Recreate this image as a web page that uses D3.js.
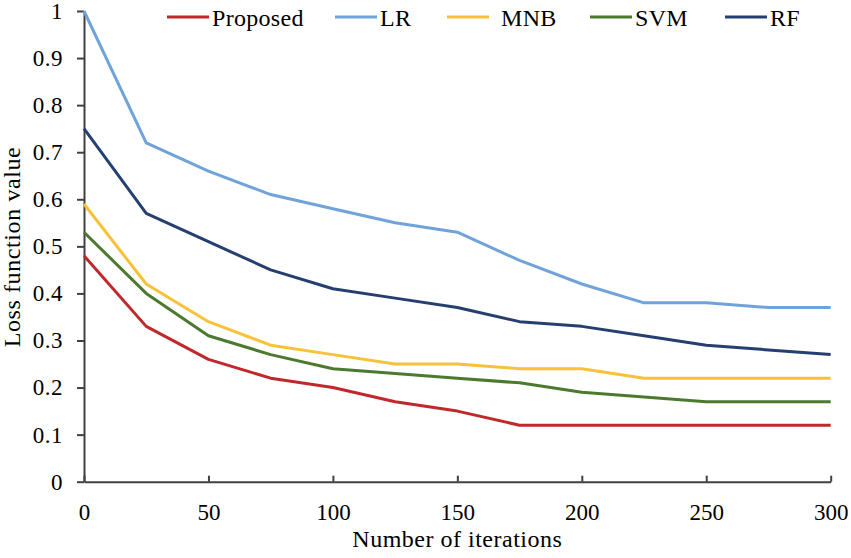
<!DOCTYPE html>
<html>
<head>
<meta charset="utf-8">
<script src="https://cdn.jsdelivr.net/npm/d3@7"></script>
<style>
  body { margin: 0; background: #fff; }
  text { font-family: "Liberation Serif", "Times New Roman", serif; fill: #000; }
</style>
</head>
<body>
<div id="svgdiv"></div>
<script>
// chart data
var iterations = [0, 25, 50, 75, 100, 125, 150, 175, 200, 225, 250, 275, 300];
var seriesNames = ["Proposed", "LR", "MNB", "SVM", "RF"];
var proposed = [0.48, 0.33, 0.26, 0.22, 0.20, 0.17, 0.15, 0.12, 0.12, 0.12, 0.12, 0.12, 0.12];
var lr       = [1.00, 0.72, 0.66, 0.61, 0.58, 0.55, 0.53, 0.47, 0.42, 0.38, 0.38, 0.37, 0.37];
var mnb      = [0.59, 0.42, 0.34, 0.29, 0.27, 0.25, 0.25, 0.24, 0.24, 0.22, 0.22, 0.22, 0.22];
var svm      = [0.53, 0.40, 0.31, 0.27, 0.24, 0.23, 0.22, 0.21, 0.19, 0.18, 0.17, 0.17, 0.17];
var rf       = [0.75, 0.57, 0.51, 0.45, 0.41, 0.39, 0.37, 0.34, 0.33, 0.31, 0.29, 0.28, 0.27];
var xTicks = [0, 50, 100, 150, 200, 250, 300];
var yTicks = [0, 0.1, 0.2, 0.3, 0.4, 0.5, 0.6, 0.7, 0.8, 0.9, 1];

var colors = ["#c0282c", "#6fa3d9", "#f7c23a", "#4b7a2f", "#243f70"];
var allSeries = [proposed, lr, mnb, svm, rf];

var width = 851, height = 558;
var margin = {left: 84, right: 20, top: 11, bottom: 76};

let svg = d3.select("#svgdiv").append("svg")
    .attr("width", width)
    .attr("height", height);

var x = d3.scaleLinear().domain([0, 300]).range([margin.left, 830.7]);
var y = d3.scaleLinear().domain([0, 1]).range([481.7, margin.top]);

// x axis - ticks point inward
var xAxis = svg.append("g")
    .attr("transform", "translate(0," + y(0) + ")")
    .call(d3.axisBottom(x).tickValues(xTicks).tickSize(-6).tickPadding(22).tickSizeOuter(0));
xAxis.select(".domain").attr("stroke", "#404040").attr("stroke-width", 2);
xAxis.selectAll(".tick line").attr("stroke", "#404040").attr("stroke-width", 2);
xAxis.selectAll(".tick text")
    .style("font-family", "Liberation Serif")
    .style("font-size", "23px")
    .attr("dy", "0.71em");

// y axis - ticks point outward
var yAxis = svg.append("g")
    .attr("transform", "translate(" + x(0) + ",0)")
    .call(d3.axisLeft(y).tickValues(yTicks).tickSize(7).tickPadding(14).tickSizeOuter(0)
        .tickFormat(d3.format("~g")));
yAxis.select(".domain").attr("stroke", "#404040").attr("stroke-width", 2);
yAxis.selectAll(".tick line").attr("stroke", "#404040").attr("stroke-width", 2);
yAxis.selectAll(".tick text")
    .style("font-family", "Liberation Serif")
    .style("font-size", "23px")
    .style("letter-spacing", "0.5px");

// series lines
var line = d3.line()
    .x(function(d, i) { return x(iterations[i]); })
    .y(function(d) { return y(d); });

allSeries.forEach(function(s, k) {
    svg.append("path")
        .datum(s)
        .attr("fill", "none")
        .attr("stroke", colors[k])
        .attr("stroke-width", 3)
        .attr("stroke-linejoin", "round")
        .attr("d", line);
});

// axis titles
svg.append("text")
    .text("Number of iterations")
    .attr("x", (x(0) + x(300)) / 2)
    .attr("y", 547)
    .attr("text-anchor", "middle")
    .style("font-size", "24px")
    .style("letter-spacing", "0.5px");

svg.append("text")
    .text("Loss function value")
    .attr("transform", "translate(20," + 247 + ") rotate(-90)")
    .attr("text-anchor", "middle")
    .style("font-size", "24px")
    .style("letter-spacing", "0.6px");

// legend
var legendX = [167, 335, 447, 590, 725];
var legend = svg.append("g");
seriesNames.forEach(function(name, k) {
    legend.append("line")
        .attr("x1", legendX[k])
        .attr("x2", legendX[k] + 42)
        .attr("y1", 17)
        .attr("y2", 17)
        .attr("stroke", colors[k])
        .attr("stroke-width", 3);
    legend.append("text")
        .text(name)
        .attr("x", legendX[k] + 45 + (k == 2 ? 9 : 0))
        .attr("y", 26)
        .style("font-size", "24px")
        .style("letter-spacing", "0.3px");
});
</script>
</body>
</html>
